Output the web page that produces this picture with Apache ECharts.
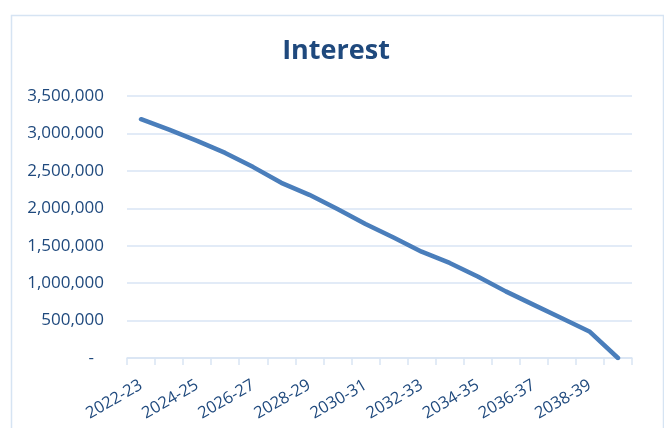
<!DOCTYPE html>
<html>
<head>
<meta charset="utf-8">
<script src="https://cdn.jsdelivr.net/npm/echarts@6/dist/echarts.min.js"></script>
<style>
  html, body { margin: 0; padding: 0; background: #ffffff; }
  #chart { width: 664px; height: 428px; }
</style>
</head>
<body>
<div id="chart"></div>
<script>
// Financial years shown on the horizontal axis
const years = [
  '2022-23', '2023-24', '2024-25', '2025-26', '2026-27', '2027-28',
  '2028-29', '2029-30', '2030-31', '2031-32', '2032-33', '2033-34',
  '2034-35', '2035-36', '2036-37', '2037-38', '2038-39', '2039-40'
];

// Interest payable in each year
const interest = [
  3190000, 3050000, 2900000, 2740000, 2550000, 2340000,
  2180000, 1990000, 1790000, 1610000, 1420000, 1270000,
  1090000, 890000, 710000, 530000, 350000, 0
];

const titleText = 'Interest';
const yMax = 3500000;
const yStep = 500000;

const textColor = '#1f497d';
const gridColor = '#d9e5f4';
const lineColor = '#4a7ebb';
const fontFamily = '"Open Sans", "Liberation Sans", sans-serif';

const chart = echarts.init(document.getElementById('chart'), null, { renderer: 'canvas' });

chart.setOption({
  animation: false,
  backgroundColor: '#ffffff',
  title: {
    text: titleText,
    left: 331,
    textAlign: 'center',
    top: 33,
    textStyle: { color: textColor, fontFamily: fontFamily, fontWeight: 'bold', fontSize: 27 }
  },
  graphic: [{
    type: 'rect',
    shape: { x: 11.5, y: 15.5, width: 652, height: 430 },
    style: { fill: 'none', stroke: '#d6e4f3', lineWidth: 1.5 },
    silent: true
  }],
  grid: { left: 127, top: 96, width: 505, height: 262, containLabel: false },
  xAxis: {
    type: 'category',
    data: years,
    boundaryGap: true,
    axisLine: { show: true, lineStyle: { color: gridColor, width: 1.5 } },
    axisTick: { show: true, length: 7, interval: 0, lineStyle: { color: gridColor, width: 1.5 } },
    axisLabel: {
      interval: 1,
      rotate: 30,
      margin: 26,
      color: textColor,
      fontFamily: fontFamily,
      fontSize: 16.5
    },
    splitLine: { show: false }
  },
  yAxis: {
    type: 'value',
    min: 0,
    max: yMax,
    interval: yStep,
    axisLine: { show: false },
    axisTick: { show: false },
    splitLine: { lineStyle: { color: gridColor, width: 1.5 } },
    axisLabel: {
      margin: 23,
      color: textColor,
      fontFamily: fontFamily,
      fontSize: 17,
      formatter: function (v) {
        return v === 0 ? '{dash|-}' : v.toLocaleString('en-US');
      },
      rich: {
        dash: { color: textColor, fontFamily: fontFamily, fontSize: 17, padding: [0, 10, 0, 0] }
      }
    }
  },
  series: [{
    type: 'line',
    data: interest,
    symbol: 'none',
    smooth: false,
    lineStyle: { color: lineColor, width: 4.5, cap: 'round', join: 'round' }
  }]
});
</script>
</body>
</html>
